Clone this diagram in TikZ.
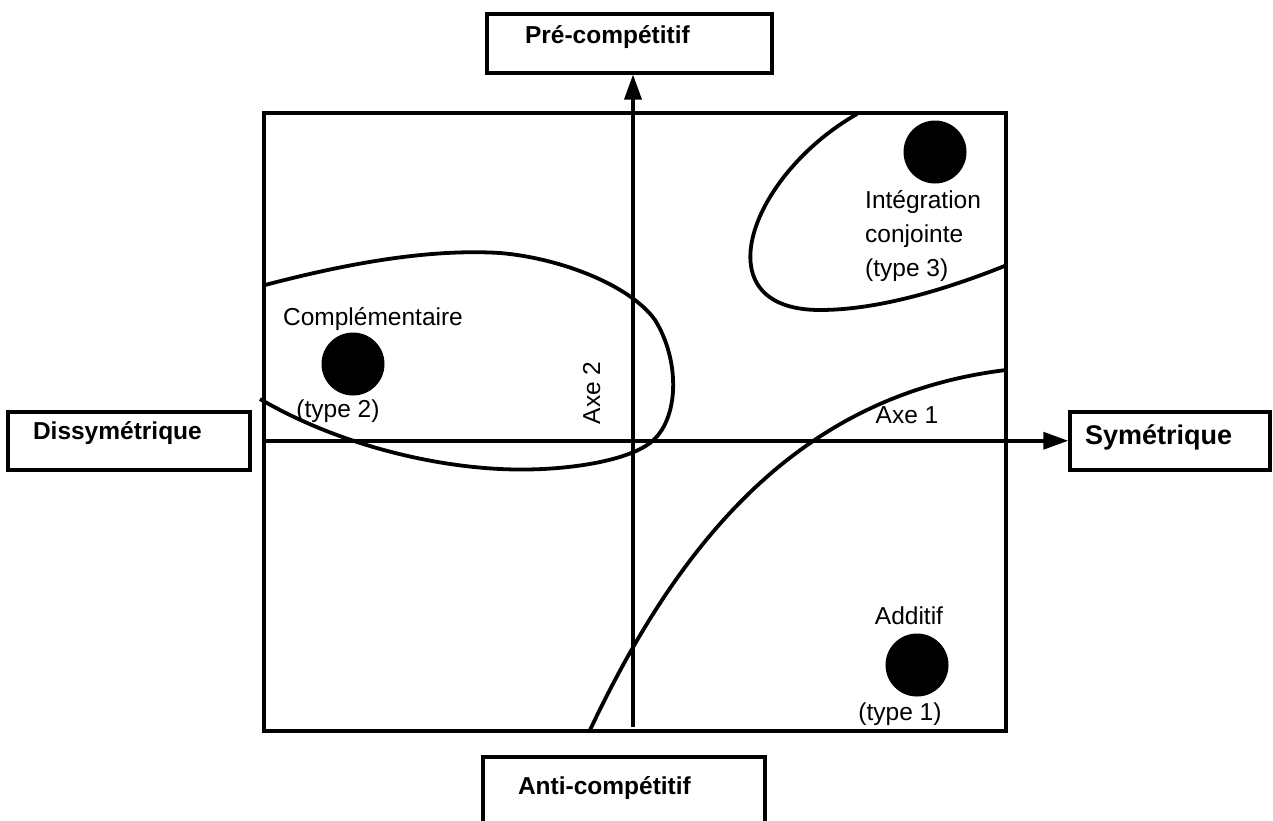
\documentclass[tikz,border=0pt]{standalone}
\usepackage{fontspec}
\setmainfont{Liberation Sans}
\usetikzlibrary{arrows.meta}
\tikzset{
  lw/.style={line width=3.5pt},
  lbl/.style={font=\fontsize{24.5}{34}\selectfont, inner sep=0pt},
  boxlbl/.style={draw, lw, font=\bfseries\fontsize{24.5}{28}\selectfont, align=left, inner ysep=0pt, anchor=north},
  dot/.style={circle, fill=black, inner sep=0pt, minimum size=63pt},
  curve/.style={line width=3.8pt},
  axisarrow/.style={lw, -{Triangle[length=25pt,width=17pt]}}
}
\begin{document}
\begin{tikzpicture}[x=1pt,y=-1pt]
\useasboundingbox (0,0) rectangle (1273,820);
% main square
\node[draw, lw, minimum width=742pt, minimum height=618pt, inner sep=0pt] (sq) at (635,422) {};
% boxes
\node[boxlbl, inner xsep=38pt, text width=209pt, text height=30pt, text depth=29pt] (pre) at (629.5,12) {Pré-compétitif};
\node[boxlbl, inner xsep=25pt, text width=192pt, text height=28pt, text depth=30pt] (dis) at (129,410) {Dissymétrique};
\node[boxlbl, font=\bfseries\fontsize{27}{32}\selectfont, inner xsep=15pt, text width=170pt, text height=33pt, text depth=25pt] (sym) at (1170,410) {Symétrique};
\node[boxlbl, inner xsep=35pt, text width=212pt, text height=38pt, text depth=42pt] (anti) at (624,755) {Anti-compétitif};
% curves
\draw[curve] (265,285) .. controls (330,268) and (420,248) .. (500,253)
  .. controls (560,258) and (630,285) .. (655,320)
  .. controls (680,360) and (680,420) .. (650,443)
  .. controls (625,462) and (560,472) .. (500,469)
  .. controls (420,465) and (330,440) .. (260,399);
\draw[curve] (857,114) .. controls (750,175) and (700,310) .. (820,310)
  .. controls (880,310) and (950,288) .. (1007,265);
\draw[curve] (590,730) .. controls (680,540) and (800,395) .. (1006,370);
% axes
\coordinate (vb) at (633,727);
\draw[axisarrow] (vb) -- (vb |- pre.south);
\draw[axisarrow] (sq.west |- sym.west) -- (sym.west);
% dots
\node[dot] (d2) at (353,364) {};
\node[dot] (d3) at (935,152) {};
\node[dot] (d1) at (917,665) {};
% labels
\node[lbl, anchor=base] (lcomp) at (373,325) {Complémentaire};
\node[lbl, anchor=base] (lt2) at (338,417) {(type 2)};
\node[lbl, anchor=base, rotate=90] (lax2) at (600,393) {Axe 2};
\node[lbl, anchor=base] (lax1) at (907,423) {Axe 1};
\node[lbl, anchor=base] (ladd) at (909,624) {Additif};
\node[lbl, anchor=base] (lt1) at (900,720) {(type 1)};
\node[lbl, align=left, anchor=west] (lint) at (865,236) {Intégration\\conjointe\\(type 3)};
\end{tikzpicture}
\end{document}
